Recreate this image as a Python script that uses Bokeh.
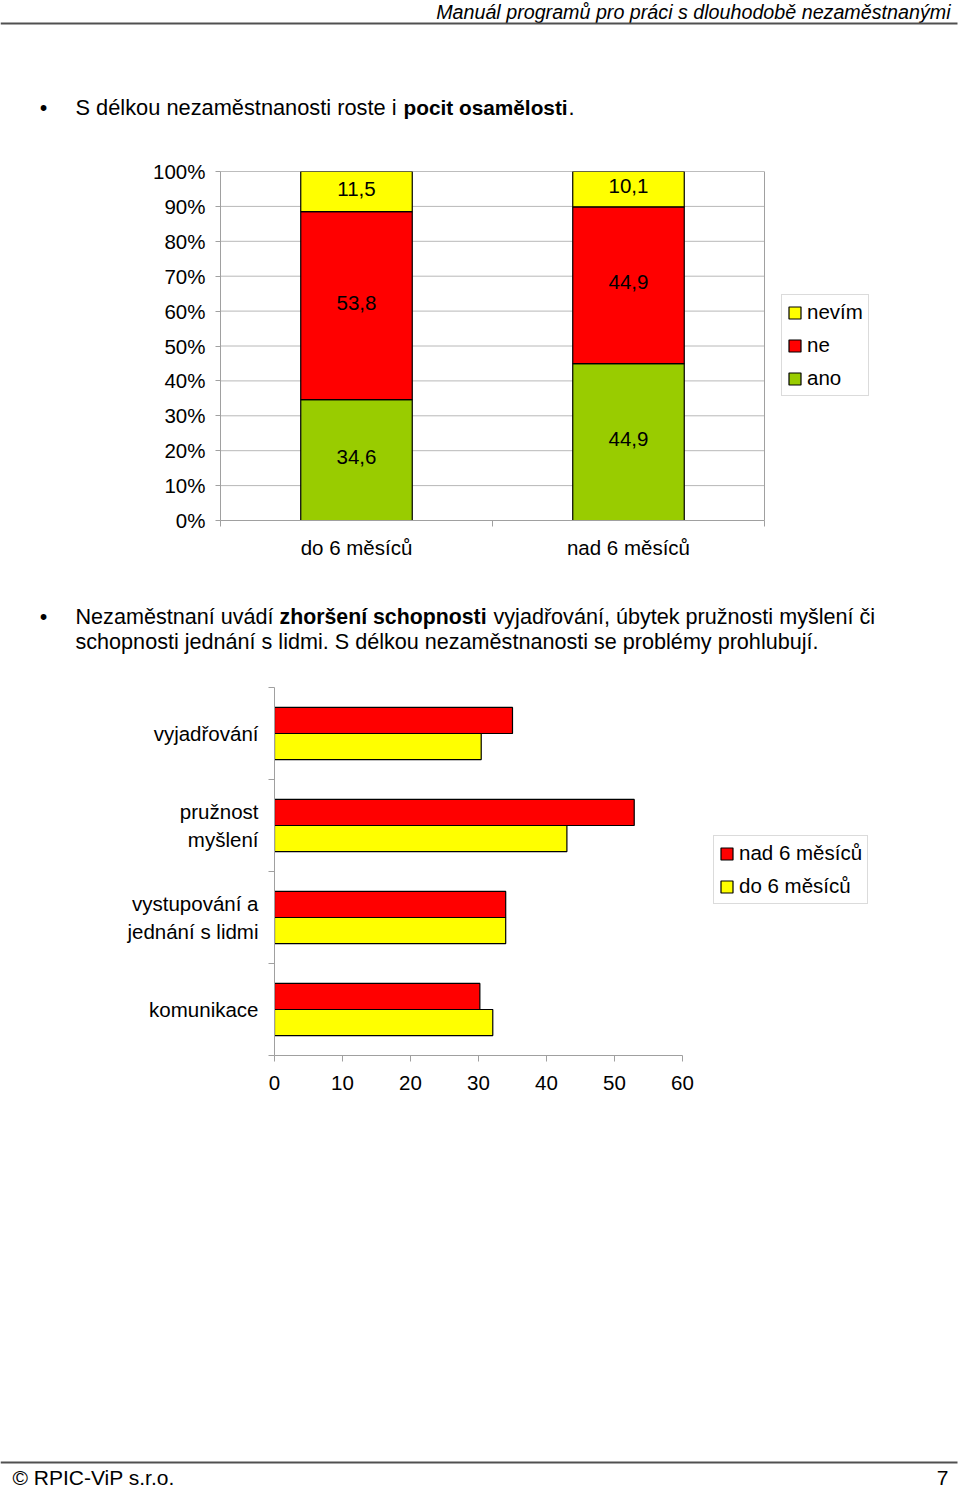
from bokeh.plotting import figure
from bokeh.models import Range1d, FixedTicker, Legend, LegendItem, ColumnDataSource, PrintfTickFormatter
from bokeh.core.properties import value
from bokeh.embed import file_html
from bokeh.resources import INLINE

FONT = "Liberation Sans"
W = 960

# ---------------- texts ----------------
header_title = "Manuál programů pro práci s dlouhodobě nezaměstnanými"
bullet1_parts = ["S délkou nezaměstnanosti roste i", "pocit osamělosti", "."]
bullet2_line1 = ["Nezaměstnaní uvádí", "zhoršení schopnosti", "vyjadřování, úbytek pružnosti myšlení či"]
bullet2_line2 = "schopnosti jednání s lidmi. S délkou nezaměstnanosti se problémy prohlubují."
footer_left = "© RPIC-ViP s.r.o."
footer_right = "7"

# ---------------- chart 1 data ----------------
groups1 = ["do 6 měsíců", "nad 6 měsíců"]
ano = [34.6, 44.9]
ne = [53.8, 44.9]
nevim = [11.5, 10.1]
pct_ticks = [0, 10, 20, 30, 40, 50, 60, 70, 80, 90, 100]

# ---------------- chart 2 data ----------------
skills = ["vyjadřování", "pružnost\nmyšlení", "vystupování a\njednání s lidmi", "komunikace"]
nad6 = [35.0, 52.9, 34.0, 30.2]
do6 = [30.4, 43.0, 34.0, 32.1]
x_ticks2 = [0, 10, 20, 30, 40, 50, 60]

GREEN = "#99CC00"
RED = "#FF0000"
YELLOW = "#FFFF00"
GRID = "#b8b8b8"
AXIS = "#a0a0a0"
CHART_FS = "20.5px"
BODY_FS = "21.6px"


def page_fig(h):
    p = figure(width=W, height=h, x_range=Range1d(0, W), y_range=Range1d(h, 0),
               output_backend="svg", toolbar_location=None, min_border=0)
    p.axis.visible = False
    p.grid.visible = False
    p.outline_line_color = None
    return p


def txt(p, x, y, s, align="left", style="normal", size=BODY_FS):
    p.text(x=[x], y=[y], text=[s], text_font=value(FONT), text_font_size=size,
           text_font_style=style, text_align=align, text_baseline="middle", text_color="black")


# ---------- top page part ----------
top = page_fig(150)
txt(top, 950, 11, header_title, align="right", style="italic", size="19.7px")
top.segment(x0=[0], y0=[23], x1=[957], y1=[23], line_color="#505050", line_width=2)
txt(top, 43, 107, "•", align="center")
txt(top, 75, 107, bullet1_parts[0], size="21.8px")
txt(top, 403, 107, bullet1_parts[1], style="bold", size="20.8px")
txt(top, 568, 107, bullet1_parts[2], size="21.8px")

# ---------- chart 1 ----------
# plot area 544 px wide for the two categories; frame extended to the right to host the legend
n1 = len(groups1)
c1_px = 544 / n1
frame1_w = 660
p1 = figure(width=W, height=425, x_range=Range1d(0, frame1_w / c1_px), y_range=Range1d(0, 100),
            output_backend="svg", toolbar_location=None,
            min_border_left=220, min_border_right=W - 220 - frame1_w,
            min_border_top=21, min_border_bottom=55)
p1.grid.visible = False
p1.outline_line_color = None
# plot-area grid lines and border, limited to the category area
p1.segment(x0=[0] * len(pct_ticks), x1=[n1] * len(pct_ticks), y0=pct_ticks, y1=pct_ticks,
           line_color=GRID, line_width=1)
p1.quad(left=[0], right=[n1], bottom=[pct_ticks[0]], top=[pct_ticks[-1]],
        fill_color=None, line_color=AXIS, line_width=1)

tot = [a + b + c for a, b, c in zip(ano, ne, nevim)]
src1 = ColumnDataSource(dict(
    x=[i + 0.5 for i in range(n1)],
    ano=[a / t * 100 for a, t in zip(ano, tot)],
    ne=[b / t * 100 for b, t in zip(ne, tot)],
    nevim=[c / t * 100 for c, t in zip(nevim, tot)],
))
rs = p1.vbar_stack(["ano", "ne", "nevim"], x="x", width=0.41, color=[GREEN, RED, YELLOW],
                   line_color="black", line_width=1.2, source=src1)
lx, ly, lt = [], [], []
for i in range(n1):
    base = 0.0
    for vals in (ano, ne, nevim):
        h = vals[i] / tot[i] * 100
        lx.append(i + 0.5)
        ly.append(base + h / 2)
        lt.append(f"{vals[i]:.1f}".replace(".", ","))
        base += h
p1.text(x=lx, y=ly, text=lt, text_font=value(FONT), text_font_size=CHART_FS,
        text_align="center", text_baseline="middle", text_color="black", y_offset=-3)

xa = p1.xaxis[0]
xa.bounds = (0, n1)
xa.ticker = FixedTicker(ticks=[i + 0.5 for i in range(n1)], minor_ticks=list(range(n1 + 1)))
xa.major_label_overrides = {i + 0.5: g for i, g in enumerate(groups1)}
xa.major_tick_out = 0
xa.major_tick_in = 0
xa.minor_tick_out = 6
xa.minor_tick_in = 0
xa.minor_tick_line_color = AXIS
xa.axis_line_color = AXIS
xa.major_label_standoff = 9

ya = p1.yaxis[0]
ya.ticker = FixedTicker(ticks=pct_ticks)
ya.formatter = PrintfTickFormatter(format="%d%%")
ya.major_tick_out = 5
ya.major_tick_in = 0
ya.minor_tick_out = 0
ya.minor_tick_in = 0
ya.major_tick_line_color = AXIS
ya.axis_line_color = AXIS
ya.major_label_standoff = 10

for ax in (xa, ya):
    ax.major_label_text_font = FONT
    ax.major_label_text_font_size = CHART_FS
    ax.major_label_text_color = "black"

leg1 = Legend(items=[LegendItem(label="nevím", renderers=[rs[2]]),
                     LegendItem(label="ne", renderers=[rs[1]]),
                     LegendItem(label="ano", renderers=[rs[0]])],
              location=(561, 124))
p1.add_layout(leg1, "center")

# ---------- middle text ----------
mid = page_fig(105)
txt(mid, 43, 41, "•", align="center")
txt(mid, 75, 41, bullet2_line1[0])
txt(mid, 279, 41, bullet2_line1[1], style="bold", size="21.3px")
txt(mid, 493, 41, bullet2_line1[2])
txt(mid, 75, 66, bullet2_line2)

# ---------- chart 2 ----------
n = len(skills)
bh = 0.283
px_per_unit = 408 / x_ticks2[-1]
frame2_w = 606
src2 = ColumnDataSource(dict(
    y_nad=[i + 0.5 - bh / 2 for i in range(n)],
    y_do=[i + 0.5 + bh / 2 for i in range(n)],
    nad6=nad6, do6=do6,
))
p2 = figure(width=W, height=430, x_range=Range1d(0, frame2_w / px_per_unit), y_range=Range1d(n, 0),
            output_backend="svg", toolbar_location=None,
            min_border_left=274, min_border_right=W - 274 - frame2_w,
            min_border_top=7, min_border_bottom=55)
r_nad = p2.hbar(y="y_nad", right="nad6", left=0, height=bh, source=src2,
                fill_color=RED, line_color="black", line_width=1.2)
r_do = p2.hbar(y="y_do", right="do6", left=0, height=bh, source=src2,
               fill_color=YELLOW, line_color="black", line_width=1.2)
p2.grid.visible = False
p2.outline_line_color = None

xb = p2.xaxis[0]
xb.bounds = (x_ticks2[0], x_ticks2[-1])
xb.ticker = FixedTicker(ticks=x_ticks2)
xb.major_tick_out = 6
xb.major_tick_in = 0
xb.minor_tick_out = 0
xb.minor_tick_in = 0
xb.major_tick_line_color = AXIS
xb.axis_line_color = AXIS
xb.major_label_standoff = 14

yb = p2.yaxis[0]
yb.ticker = FixedTicker(ticks=[i + 0.5 for i in range(n)], minor_ticks=list(range(n + 1)))
yb.major_label_overrides = {i + 0.5: s for i, s in enumerate(skills)}
yb.major_tick_out = 0
yb.major_tick_in = 0
yb.minor_tick_out = 6
yb.minor_tick_in = 0
yb.minor_tick_line_color = AXIS
yb.axis_line_color = AXIS
yb.major_label_standoff = 10

for ax in (xb, yb):
    ax.major_label_text_font = FONT
    ax.major_label_text_font_size = CHART_FS
    ax.major_label_text_color = "black"

leg2 = Legend(items=[LegendItem(label="nad 6 měsíců", renderers=[r_nad]),
                     LegendItem(label="do 6 měsíců", renderers=[r_do])],
              location=(439, 151))
p2.add_layout(leg2, "center")

for lg in (leg1, leg2):
    lg.label_text_font = FONT
    lg.label_text_font_size = CHART_FS
    lg.label_text_color = "black"
    lg.glyph_width = 15
    lg.glyph_height = 15
    lg.label_height = 20
    lg.label_standoff = 5
    lg.spacing = 9
    lg.padding = 5
    lg.margin = 0
    lg.border_line_color = GRID
    lg.background_fill_color = "white"
    lg.background_fill_alpha = 1.0

# ---------- bottom ----------
bot = page_fig(379)
bot.segment(x0=[0], y0=[352], x1=[957], y1=[352], line_color="#505050", line_width=2)
txt(bot, 12, 367, footer_left, size="21px")
txt(bot, 948, 367, footer_right, align="right", size="21px")

# separate roots stacked on the page (a shared column would align the plot frames)
p = [top, p1, mid, p2, bot]
open("out.html", "w").write(file_html(p, INLINE))
